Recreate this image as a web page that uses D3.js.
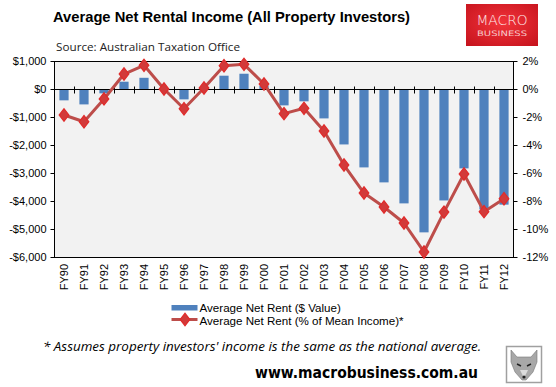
<!DOCTYPE html>
<html>
<head>
<meta charset="utf-8">
<script src="https://cdn.jsdelivr.net/npm/d3@7/dist/d3.min.js"></script>
<style>
  body { margin: 0; background: #fff; }
  svg { display: block; }
</style>
</head>
<body>
<div id="chart"></div>
<script>
// data
const years = ["FY90","FY91","FY92","FY93","FY94","FY95","FY96","FY97","FY98","FY99","FY00","FY01",
               "FY02","FY03","FY04","FY05","FY06","FY07","FY08","FY09","FY10","FY11","FY12"];
const rentDollars = [-405, -550, -155, 260, 400, -20, -370, 10, 475, 545, 120, -585,
                     -440, -1050, -1980, -2800, -3335, -4085, -5120, -3980, -2835, -4300, -4130];
const rentPercent = [-1.86, -2.34, -0.71, 1.07, 1.69, 0.0, -1.41, 0.07, 1.66, 1.76, 0.36, -1.76,
                     -1.38, -3.0, -5.43, -7.43, -8.43, -9.57, -11.64, -8.79, -6.07, -8.76, -7.84];
const dollarTicks = [1000, 0, -1000, -2000, -3000, -4000, -5000, -6000];
const percentTicks = [2, 0, -2, -4, -6, -8, -10, -12];
const legendLabels = ["Average Net Rent ($ Value)", "Average Net Rent (% of Mean Income)*"];

const W = 556, H = 387;
const plot = { left: 54, right: 514, top: 61, bottom: 257 };

const svg = d3.select("#chart").append("svg")
    .attr("width", W).attr("height", H);

const defs = svg.append("defs");
const grad = defs.append("radialGradient").attr("id", "logoGrad")
    .attr("cx", "50%").attr("cy", "45%").attr("r", "75%");
grad.append("stop").attr("offset", "0%").attr("stop-color", "#f2333a");
grad.append("stop").attr("offset", "100%").attr("stop-color", "#c4121c");

const x = d3.scaleBand().domain(years).range([plot.left, plot.right]);
const yL = d3.scaleLinear().domain([-6000, 1000]).range([plot.bottom, plot.top]);
const yR = d3.scaleLinear().domain([-12, 2]).range([plot.bottom, plot.top]);

// plot background
svg.append("rect")
    .attr("x", plot.left).attr("y", plot.top)
    .attr("width", plot.right - plot.left).attr("height", plot.bottom - plot.top)
    .attr("fill", "#f2f2f2");

// bars
const barW = x.bandwidth() * 0.46;
svg.append("g").selectAll("rect")
    .data(rentDollars)
    .enter().append("rect")
    .attr("x", (d, i) => x(years[i]) + (x.bandwidth() - barW) / 2)
    .attr("y", d => yL(Math.max(0, d)))
    .attr("width", barW)
    .attr("height", d => Math.abs(yL(d) - yL(0)))
    .attr("fill", "#4f81bd");

// zero line with category ticks
const zeroY = Math.round(yL(0)) + 0.5;
svg.append("line")
    .attr("x1", plot.left).attr("x2", plot.right)
    .attr("y1", zeroY).attr("y2", zeroY)
    .attr("stroke", "#000").attr("stroke-width", 1);
svg.append("g").selectAll("line")
    .data(years.slice(1))
    .enter().append("line")
    .attr("x1", d => Math.round(x(d)) + 0.5)
    .attr("x2", d => Math.round(x(d)) + 0.5)
    .attr("y1", zeroY - 3).attr("y2", zeroY + 4)
    .attr("stroke", "#000");

// frame
svg.append("rect")
    .attr("x", plot.left + 0.5).attr("y", plot.top + 0.5)
    .attr("width", plot.right - plot.left - 1).attr("height", plot.bottom - plot.top)
    .attr("fill", "none").attr("stroke", "#000");

// left axis
const fmtNum = d3.format(",");
const axL = svg.append("g")
    .attr("transform", `translate(${plot.left + 0.5},0)`)
    .call(d3.axisLeft(yL).tickValues(dollarTicks).tickSize(4).tickSizeOuter(0)
        .tickFormat(v => (v < 0 ? "-$" : "$") + fmtNum(Math.abs(v))));
axL.select(".domain").remove();
axL.selectAll("text").attr("x", -8);

// right axis
const axR = svg.append("g")
    .attr("transform", `translate(${plot.right - 0.5},0)`)
    .call(d3.axisRight(yR).tickValues(percentTicks).tickSize(4).tickSizeOuter(0)
        .tickFormat(v => (v < 0 ? "-" : "") + Math.abs(v) + "%"));
axR.select(".domain").remove();
axR.selectAll("text").attr("x", 9);

[axL, axR].forEach(a => {
    a.selectAll("text").attr("font-family", "Arial, 'Liberation Sans', sans-serif")
        .attr("font-size", 11).attr("fill", "#000");
    a.selectAll("line").attr("stroke", "#000");
});

// category labels
svg.append("g").selectAll("text")
    .data(years)
    .enter().append("text")
    .attr("transform", d => `translate(${x(d) + x.bandwidth() / 2 + 4},${plot.bottom + 7}) rotate(-90)`)
    .attr("text-anchor", "end")
    .attr("font-family", "Arial, 'Liberation Sans', sans-serif")
    .attr("font-size", 11)
    .text(d => d);

// percentage line
const line = d3.line()
    .x((d, i) => x(years[i]) + x.bandwidth() / 2)
    .y(d => yR(d));
svg.append("path")
    .datum(rentPercent)
    .attr("d", line)
    .attr("fill", "none")
    .attr("stroke", "#bd4d4a")
    .attr("stroke-width", 3)
    .attr("stroke-linejoin", "round");

const diamond = d3.symbol().type(d3.symbolDiamond).size(44);
svg.append("g").selectAll("path")
    .data(rentPercent)
    .enter().append("path")
    .attr("d", diamond)
    .attr("transform", (d, i) => `translate(${x(years[i]) + x.bandwidth() / 2},${yR(d)}) scale(1.35,1)`)
    .attr("fill", "#d23a3a")
    .attr("stroke", "#e02b2b")
    .attr("stroke-width", 1);

// legend
const lg = svg.append("g").attr("font-family", "Arial, 'Liberation Sans', sans-serif")
    .attr("font-size", 11.6);
lg.append("rect").attr("x", 171.5).attr("y", 305).attr("width", 26).attr("height", 5.5)
    .attr("fill", "#4f81bd");
lg.append("line").attr("x1", 171.5).attr("x2", 197.5).attr("y1", 319.5).attr("y2", 319.5)
    .attr("stroke", "#bd4d4a").attr("stroke-width", 3);
lg.append("path").attr("d", diamond)
    .attr("transform", "translate(185,319.5) scale(1.35,1)")
    .attr("fill", "#d23a3a").attr("stroke", "#e02b2b");
lg.selectAll("text.lbl")
    .data(legendLabels)
    .enter().append("text")
    .attr("x", 199.5)
    .attr("y", (d, i) => 312 + i * 12.5)
    .text(d => d);

// title and source
svg.append("text")
    .attr("x", 53).attr("y", 22)
    .attr("font-family", "Arial, 'Liberation Sans', sans-serif")
    .attr("font-weight", "bold").attr("font-size", 15.5)
    .attr("textLength", 357).attr("lengthAdjust", "spacingAndGlyphs")
    .text("Average Net Rental Income (All Property Investors)");
svg.append("text")
    .attr("x", 56).attr("y", 51)
    .attr("font-family", "'Open Sans', sans-serif")
    .attr("font-size", 11.5).attr("fill", "#222")
    .attr("textLength", 184).attr("lengthAdjust", "spacingAndGlyphs")
    .text("Source: Australian Taxation Office");

// footnote and url
svg.append("text")
    .attr("x", 43).attr("y", 351)
    .attr("font-family", "'Open Sans', sans-serif")
    .attr("font-style", "italic").attr("font-size", 12.5)
    .attr("textLength", 438).attr("lengthAdjust", "spacingAndGlyphs")
    .text("* Assumes property investors' income is the same as the national average.");
svg.append("text")
    .attr("x", 255).attr("y", 378)
    .attr("font-family", "'DejaVu Sans', Verdana, sans-serif")
    .attr("font-weight", "bold").attr("font-size", 15)
    .attr("textLength", 223).attr("lengthAdjust", "spacingAndGlyphs")
    .text("www.macrobusiness.com.au");

// logo
const logo = svg.append("g");
logo.append("rect").attr("x", 466).attr("y", 4).attr("width", 72).attr("height", 42)
    .attr("fill", "url(#logoGrad)");
logo.append("text").attr("x", 502).attr("y", 25).attr("text-anchor", "middle")
    .attr("font-family", "'DejaVu Sans', sans-serif").attr("font-weight", 300).attr("font-size", 13.5)
    .attr("fill", "#fde8e9").attr("textLength", 51).attr("lengthAdjust", "spacingAndGlyphs")
    .text("MACRO");
logo.append("text").attr("x", 502).attr("y", 36).attr("text-anchor", "middle")
    .attr("font-family", "'DejaVu Sans', sans-serif").attr("font-size", 7.5)
    .attr("fill", "#f7c9cb").attr("textLength", 50).attr("lengthAdjust", "spacingAndGlyphs")
    .text("BUSINESS");

// wolf badge
const wolf = svg.append("g");
wolf.append("rect").attr("x", 506.5).attr("y", 346.5).attr("width", 35).attr("height", 36)
    .attr("fill", "#fff").attr("stroke", "#a0a0a0").attr("stroke-width", 1.5);
wolf.append("path")
    .attr("d", "M511,350 L517,357 L531,357 L537,350 L537,362 L533,372 L526,380 L522,380 L515,372 L511,362 Z")
    .attr("fill", "#a8a8a8").attr("stroke", "#777").attr("stroke-width", 0.6);
wolf.append("path").attr("d", "M517,364 L521,366 M531,364 L527,366")
    .attr("stroke", "#222").attr("stroke-width", 1.5);
wolf.append("path").attr("d", "M520,370 L524,378 L528,370 Z").attr("fill", "#dcdcdc");
wolf.append("circle").attr("cx", 524).attr("cy", 377).attr("r", 1.6).attr("fill", "#222");
</script>
</body>
</html>
